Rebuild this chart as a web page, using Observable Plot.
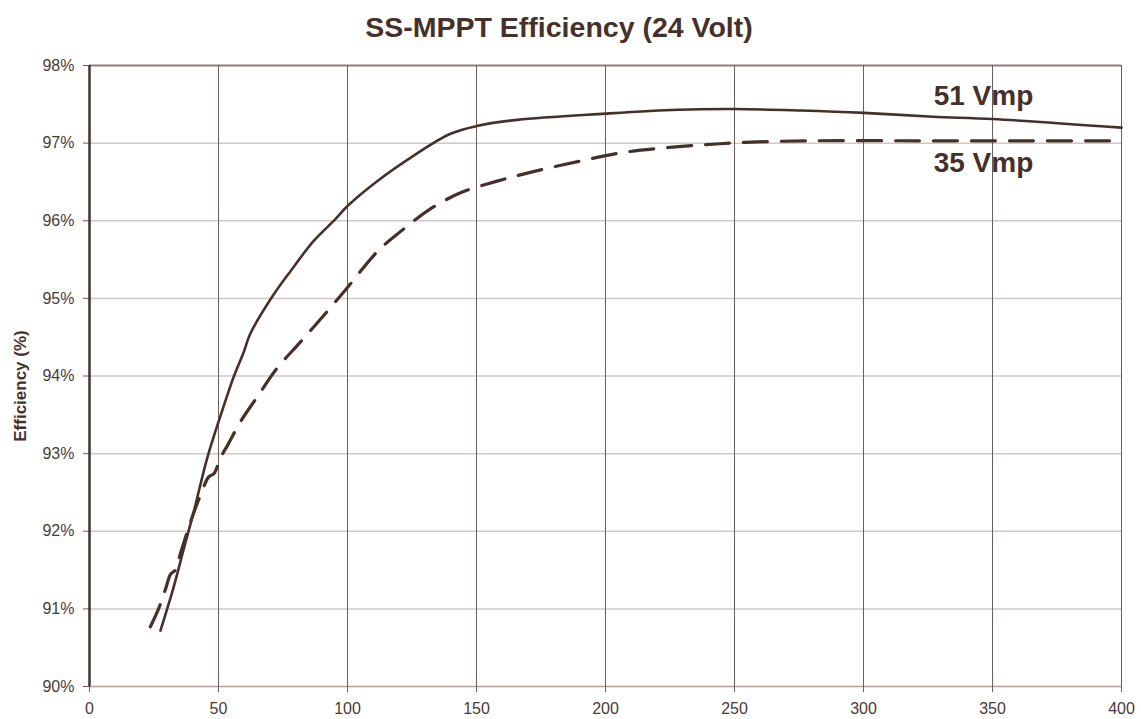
<!DOCTYPE html>
<html><head><meta charset="utf-8">
<script src="https://cdn.jsdelivr.net/npm/d3@7"></script>
<script src="https://cdn.jsdelivr.net/npm/@observablehq/plot@0.6"></script>
<style>
body{margin:0;background:#fff;}
#title{width:1141px;height:50px;box-sizing:border-box;padding-top:13px;padding-right:23px;text-align:center;font:bold 28.5px "Liberation Sans",Arial,sans-serif;color:#46302a;line-height:28px;}
</style></head><body>
<div id="title">SS-MPPT Efficiency (24 Volt)</div>
<div id="chart"></div>
<script>
const xTicks = [0, 50, 100, 150, 200, 250, 300, 350, 400];
const yTicks = [90, 91, 92, 93, 94, 95, 96, 97, 98];

const x51 = [27.5, 32.7, 36.5, 40.4, 45.6, 50.8, 53.4, 55.9, 59.8, 62.4, 70.8, 77.9, 86.9, 95.3, 100, 111.5, 125.7, 139.9, 150, 165.8, 200, 228, 250, 275.6, 300, 327, 350, 400];
const y51 = [90.72, 91.29, 91.77, 92.25, 92.94, 93.49, 93.75, 93.99, 94.31, 94.55, 95.02, 95.35, 95.74, 96.02, 96.19, 96.51, 96.84, 97.12, 97.22, 97.30, 97.38, 97.43, 97.44, 97.42, 97.39, 97.34, 97.31, 97.20];

const x35 = [23.6, 27, 29.5, 31.5, 33.3, 35.3, 40, 43, 46.2, 48.2, 50.8, 53.4, 58.5, 65, 72.7, 81.8, 92.1, 100, 111.5, 120.5, 132, 143.8, 158, 171.6, 190.3, 207, 223, 239, 254, 280, 320, 360, 400];
const y35 = [90.77, 91.02, 91.26, 91.45, 91.5, 91.72, 92.2, 92.46, 92.70, 92.74, 92.95, 93.1, 93.41, 93.73, 94.1, 94.44, 94.83, 95.14, 95.6, 95.86, 96.15, 96.36, 96.51, 96.63, 96.77, 96.88, 96.94, 96.98, 97.01, 97.03, 97.03, 97.03, 97.03];

const seriesLabels = ["51 Vmp", "35 Vmp"];
const labelX = [346.5, 346.5];
const labelY = [97.61, 96.75];

const s51 = x51.map((x, i) => ({x, y: y51[i]}));
const s35 = x35.map((x, i) => ({x, y: y35[i]}));
const labs = seriesLabels.map((t, i) => ({t, x: labelX[i], y: labelY[i]}));

const ink = "#46302a";
const font = '"Liberation Sans", Arial, sans-serif';

const chart = Plot.plot({
  width: 1141,
  height: 669,
  marginTop: 15,
  marginBottom: 33,
  marginLeft: 89,
  marginRight: 20,
  style: {fontFamily: font, fontSize: "16px", color: "#4a3a34", background: "#fff", overflow: "visible"},
  x: {domain: [0, 400]},
  y: {domain: [90, 98]},
  marks: [
    Plot.ruleY(yTicks.filter(d => d > 90 && d < 98), {stroke: "#cdc9c7", strokeWidth: 1.5}),
    Plot.ruleY([90], {stroke: "#aaa29e", strokeWidth: 1.5}),
    Plot.ruleY([98], {stroke: "#8a807c", strokeWidth: 2}),
    Plot.ruleX(xTicks.filter(d => d > 0), {stroke: "#6e5d57", strokeWidth: 1}),
    Plot.axisX({ticks: xTicks, tickSize: 6, tickPadding: 10, fontSize: 16, tickFormat: d => String(d), label: null, stroke: "#6e5d57"}),
    Plot.axisY({ticks: yTicks, tickSize: 6, tickPadding: 9, fontSize: 16, tickFormat: d => d + "%", label: null, stroke: "#6e5d57"}),
    Plot.ruleX([0], {stroke: ink, strokeWidth: 2.5}),
    Plot.line(s35, {x: "x", y: "y", stroke: ink, strokeWidth: 3.2, strokeDasharray: "24,14", curve: "catmull-rom"}),
    Plot.line(s51, {x: "x", y: "y", stroke: ink, strokeWidth: 2.6, curve: "catmull-rom"}),
    Plot.text(labs, {x: "x", y: "y", text: "t", fontSize: 28, fontWeight: "bold", fill: ink, textAnchor: "middle", lineAnchor: "middle"}),
    Plot.text(["Efficiency (%)"], {frameAnchor: "left", dx: -69, dy: 10, rotate: -90, fontSize: 17, fontWeight: "bold", fill: ink, textAnchor: "middle", lineAnchor: "middle"})
  ]
});
document.getElementById("chart").appendChild(chart);
</script>
</body></html>
